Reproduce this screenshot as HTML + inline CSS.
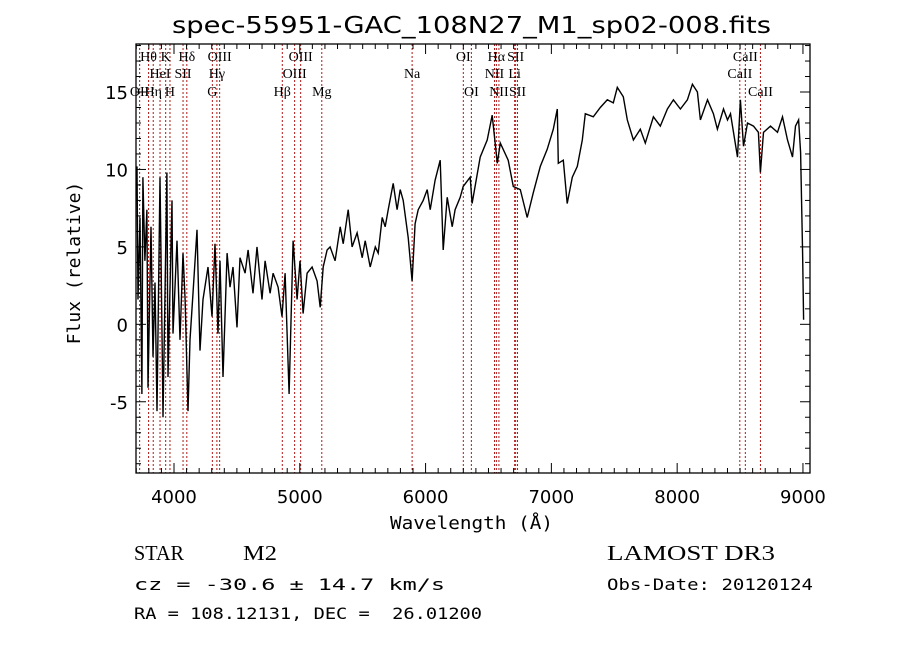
<!DOCTYPE html>
<html><head><meta charset="utf-8"><style>
html,body{margin:0;padding:0;background:#fff;}
svg{display:block;}
</style></head><body>
<svg id="chart" width="900" height="649" viewBox="0 0 900 649" xmlns="http://www.w3.org/2000/svg">
<rect x="0" y="0" width="900" height="649" fill="#fff"/>
<text x="172" y="33" textLength="599" lengthAdjust="spacingAndGlyphs" font-family="DejaVu Sans, sans-serif" font-size="23" fill="#000">spec-55951-GAC_108N27_M1_sp02-008.fits</text>
<g id="lines"></g>
<g id="labels" font-family="Liberation Serif, serif" font-size="14" fill="#000"></g>
<g id="spec"></g>
<g id="axes"></g>
<text x="390" y="529" textLength="163" lengthAdjust="spacingAndGlyphs" font-family="DejaVu Sans Mono, monospace" font-size="18">Wavelength (Å)</text>
<text transform="translate(80,263) rotate(-90)" text-anchor="middle" font-family="DejaVu Sans Mono, monospace" font-size="18">Flux (relative)</text>
<text x="134" y="560" textLength="50" lengthAdjust="spacingAndGlyphs" font-family="Liberation Serif, serif" font-size="21">STAR</text>
<text x="243" y="560" textLength="34" lengthAdjust="spacingAndGlyphs" font-family="Liberation Serif, serif" font-size="21">M2</text>
<text x="607" y="560" textLength="168" lengthAdjust="spacingAndGlyphs" font-family="Liberation Serif, serif" font-size="21">LAMOST DR3</text>
<text x="134" y="590" textLength="311" lengthAdjust="spacingAndGlyphs" font-family="DejaVu Sans Mono, monospace" font-size="16">cz = -30.6 ± 14.7 km/s</text>
<text x="607" y="590" textLength="206" lengthAdjust="spacingAndGlyphs" font-family="DejaVu Sans Mono, monospace" font-size="16">Obs-Date: 20120124</text>
<text x="134" y="619" textLength="348" lengthAdjust="spacingAndGlyphs" font-family="DejaVu Sans Mono, monospace" font-size="16" xml:space="preserve">RA = 108.12131, DEC =  26.01200</text>
</svg>
<script>
const wavelengths=[3706,3714,3730,3745,3753,3769,3785,3793,3817,3833,3849,3865,3889,3905,3913,3928,3944,3952,3984,3992,4024,4048,4072,4088,4111,4127,4151,4183,4207,4231,4270,4302,4326,4350,4366,4390,4422,4445,4469,4501,4525,4565,4589,4628,4660,4700,4724,4764,4788,4828,4859,4883,4915,4947,4979,5002,5026,5058,5098,5138,5162,5186,5217,5241,5281,5321,5345,5385,5416,5456,5496,5520,5560,5600,5623,5655,5679,5703,5743,5774,5798,5822,5862,5893,5917,5941,5981,6013,6037,6076,6116,6140,6172,6212,6235,6275,6299,6355,6370,6434,6490,6530,6570,6594,6657,6697,6753,6808,6856,6912,6967,7015,7047,7055,7095,7126,7166,7206,7246,7270,7333,7389,7445,7492,7524,7572,7604,7652,7707,7747,7811,7866,7922,7970,8026,8081,8121,8161,8185,8241,8288,8320,8368,8400,8424,8480,8503,8527,8559,8607,8646,8662,8686,8742,8798,8837,8877,8917,8941,8965,8981,8997,9005];
const fluxes=[10.2,1.6,6.9,-4.5,9.5,4.1,7.4,-4.1,6.3,-2.1,2.7,-5.6,9.5,-0.6,-6.0,1.6,9.8,-3.4,8.0,-0.6,5.4,-1.0,4.6,1.6,-5.6,-1.0,2.0,6.1,-1.7,1.6,3.7,0.5,5.2,-0.6,4.1,-3.4,4.6,2.4,3.7,-0.2,4.3,3.3,4.8,2.0,5.0,1.6,4.1,2.0,3.3,2.4,0.5,3.3,-4.5,5.4,1.6,4.1,0.7,3.3,3.7,2.8,1.1,3.7,4.8,5.0,4.1,6.3,5.2,7.4,5.0,5.9,4.3,5.4,3.7,5.0,4.6,6.9,6.3,7.4,9.1,7.4,8.7,8.0,5.6,2.8,6.5,7.4,8.0,8.7,7.4,9.3,10.6,4.8,8.2,6.3,7.4,8.2,8.9,9.5,7.8,10.8,11.9,13.5,10.4,11.7,10.6,8.9,8.7,6.9,8.5,10.2,11.3,12.6,13.9,10.4,10.6,7.8,9.5,10.2,11.9,13.6,13.4,14.0,14.5,14.3,15.3,14.7,13.2,11.9,12.6,11.7,13.4,12.8,13.9,14.5,13.9,14.5,15.5,15.0,13.2,14.5,13.6,12.6,13.9,13.2,13.6,10.8,14.5,11.5,13.0,12.8,12.4,9.8,12.4,12.8,12.4,13.4,11.9,10.8,12.8,13.2,11.1,4.6,0.3];
const lineWaves=[3727,3798,3835,3889,3934,3968,4072,4102,4305,4341,4363,4861,4959,5007,5175,5893,6300,6364,6548,6563,6583,6708,6716,6731,8498,8542,8662];
const lineNames=["OII","Hθ","Hη","HeI","K","H","SII","Hδ","G","Hγ","OIII","Hβ","OIII","OIII","Mg","Na","OI","OI","NII","Hα","NII","Li","SII","SII","CaII","CaII","CaII"];
const lineRows=[3,1,3,2,1,3,2,1,3,2,1,3,2,1,3,2,1,3,2,1,3,2,1,3,2,1,3];
const xTickLabels=["4000","5000","6000","7000","8000","9000"];
const yTickLabels=["-5","0","5","10","15"];

const L=136,R=810,T=44,B=473;
const X0=3698,X1=9056,Y0=-9.6,Y1=18.1;
const sx=w=>L+(w-X0)/(X1-X0)*(R-L);
const sy=f=>B-(f-Y0)/(Y1-Y0)*(B-T);
const NS="http://www.w3.org/2000/svg";
function mk(tag,attrs,parent){const e=document.createElementNS(NS,tag);for(const k in attrs)e.setAttribute(k,attrs[k]);parent.appendChild(e);return e;}

const gl=document.getElementById('lines'),glab=document.getElementById('labels');
const rowY={1:61,2:78,3:96};
lineWaves.forEach((w,i)=>{
  const x=sx(w);
  const ln=mk('line',{x1:x,x2:x,y1:T,y2:B,stroke:'#b01818','stroke-width':1,'stroke-dasharray':'2,2'},gl);
  
  
  const t=mk('text',{x:x,y:rowY[lineRows[i]],'text-anchor':'middle'},glab);
  t.textContent=lineNames[i];
  
  
});

const gs=document.getElementById('spec');
let d='';
wavelengths.forEach((w,i)=>{d+=(i?'L':'M')+sx(w).toFixed(1)+','+sy(fluxes[i]).toFixed(1);});
const p=mk('path',{d:d,fill:'none',stroke:'#000','stroke-width':1.4,'stroke-linejoin':'miter'},gs);



const ga=document.getElementById('axes');
const frame=mk('rect',{x:L,y:T,width:R-L,height:B-T,fill:'none',stroke:'#000','stroke-width':1.3},ga);


for(let w=3700;w<=X1;w+=100){
  const x=sx(w),maj=(w%1000===0),len=maj?10:5;
  mk('line',{x1:x,x2:x,y1:B,y2:B-len,stroke:'#000'},ga);
  mk('line',{x1:x,x2:x,y1:T,y2:T+len,stroke:'#000'},ga);
}
xTickLabels.forEach(s=>{
  const t=mk('text',{x:sx(+s),y:503,'text-anchor':'middle','font-family':'DejaVu Sans, sans-serif','font-size':18},ga);
  t.textContent=s;
  
  
});
for(let f=-9;f<=18;f++){
  const y=sy(f),maj=(f%5===0),len=maj?10:5;
  mk('line',{x1:L,x2:L+len,y1:y,y2:y,stroke:'#000'},ga);
  mk('line',{x1:R,x2:R-len,y1:y,y2:y,stroke:'#000'},ga);
}
yTickLabels.forEach(s=>{
  const t=mk('text',{x:128,y:sy(+s)+7,'text-anchor':'end','font-family':'DejaVu Sans, sans-serif','font-size':18},ga);
  t.textContent=s;
  
  
});
</script>
</body></html>
